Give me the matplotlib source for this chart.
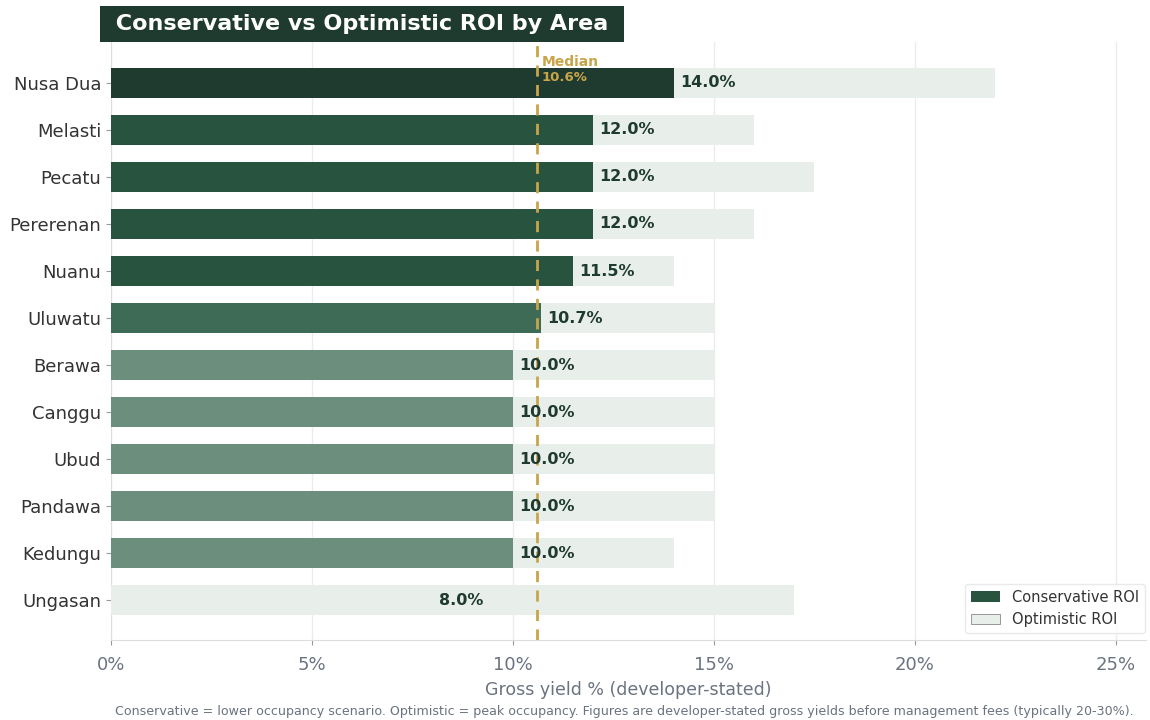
import matplotlib.pyplot as plt
from matplotlib.patches import Patch

areas = ["Nusa Dua", "Melasti", "Pecatu", "Pererenan", "Nuanu", "Uluwatu",
         "Berawa", "Canggu", "Ubud", "Pandawa", "Kedungu", "Ungasan"]
conservative = [14.0, 12.0, 12.0, 12.0, 11.5, 10.7, 10.0, 10.0, 10.0, 10.0, 10.0, 8.0]
optimistic = [22.0, 16.0, 17.5, 16.0, 14.0, 15.0, 15.0, 15.0, 15.0, 15.0, 14.0, 17.0]
median_val = 10.6
xticks = [0, 5, 10, 15, 20, 25]


def shade(v):
    # darker green for higher conservative yields
    if v >= 14:
        return "#1f3a2e"
    if v >= 11.5:
        return "#27533f"
    if v >= 10.5:
        return "#3d6b55"
    if v >= 10:
        return "#6b8f7c"
    return "#e8efeb"


fig = plt.figure(figsize=(11.5, 7.2), dpi=100)
ax = fig.add_axes([0.0965, 0.111, 0.9, 0.8306])

ypos = list(range(len(areas)))
ax.barh(ypos, optimistic, height=0.64, color="#e8efeb", zorder=2)
ax.barh(ypos, conservative, height=0.64, color=[shade(v) for v in conservative], zorder=3)

for y, v in zip(ypos, conservative):
    ax.text(v + 0.15, y, f"{v:.1f}%", va="center", ha="left", fontsize=11.5,
            fontweight="bold", color="#1f3a2e", zorder=5)

ax.axvline(median_val, color="#c9a54a", lw=2, ls=(0, (4, 3)), zorder=4)
ax.text(median_val + 0.12, -0.45, "Median", color="#c9a54a", fontsize=10,
        fontweight="bold", va="center", ha="left", zorder=6)
ax.text(median_val + 0.12, -0.12, f"{median_val:.1f}%", color="#c9a54a", fontsize=9.5,
        fontweight="bold", va="center", ha="left", zorder=6)

ax.set_yticks(ypos)
ax.set_yticklabels(areas, fontsize=13, color="#333333")
ax.set_ylim(len(areas) - 1 + 0.85, -0.87)
ax.set_xlim(0, 25.75)
ax.set_xticks(xticks)
ax.set_xticklabels([f"{t}%" for t in xticks], fontsize=13, color="#6b7280")
ax.set_xlabel("Gross yield % (developer-stated)", fontsize=12.5, color="#6b7280", labelpad=5)

ax.grid(axis="x", color="#ececec", lw=1, zorder=0)
ax.set_axisbelow(True)
for s in ["top", "right"]:
    ax.spines[s].set_visible(False)
for s in ["left", "bottom"]:
    ax.spines[s].set_color("#dddddd")
ax.tick_params(axis="both", colors="#999999", labelcolor="#6b7280")
ax.tick_params(axis="x", pad=8)
ax.tick_params(axis="y", labelcolor="#333333")

handles = [Patch(facecolor="#27533f", label="Conservative ROI"),
           Patch(facecolor="#e8efeb", edgecolor="#888888", lw=0.6, label="Optimistic ROI")]
leg = ax.legend(handles=handles, loc="lower right", fontsize=10.5, frameon=True,
                labelcolor="#333333", bbox_to_anchor=(1.006, 0.0))
leg.get_frame().set_edgecolor("#e4e4e4")

fig.text(0.094, 0.967, " Conservative vs Optimistic ROI by Area ", fontsize=16,
         fontweight="bold", color="white", va="center", ha="left",
         bbox=dict(boxstyle="square,pad=0.35", facecolor="#1f3a2e", edgecolor="none"))

fig.text(0.1, 0.012, "Conservative = lower occupancy scenario. Optimistic = peak occupancy. "
         "Figures are developer-stated gross yields before management fees (typically 20-30%).",
         fontsize=9.1, color="#6b7280", ha="left", va="center")

fig.savefig("out.png", dpi=100)
